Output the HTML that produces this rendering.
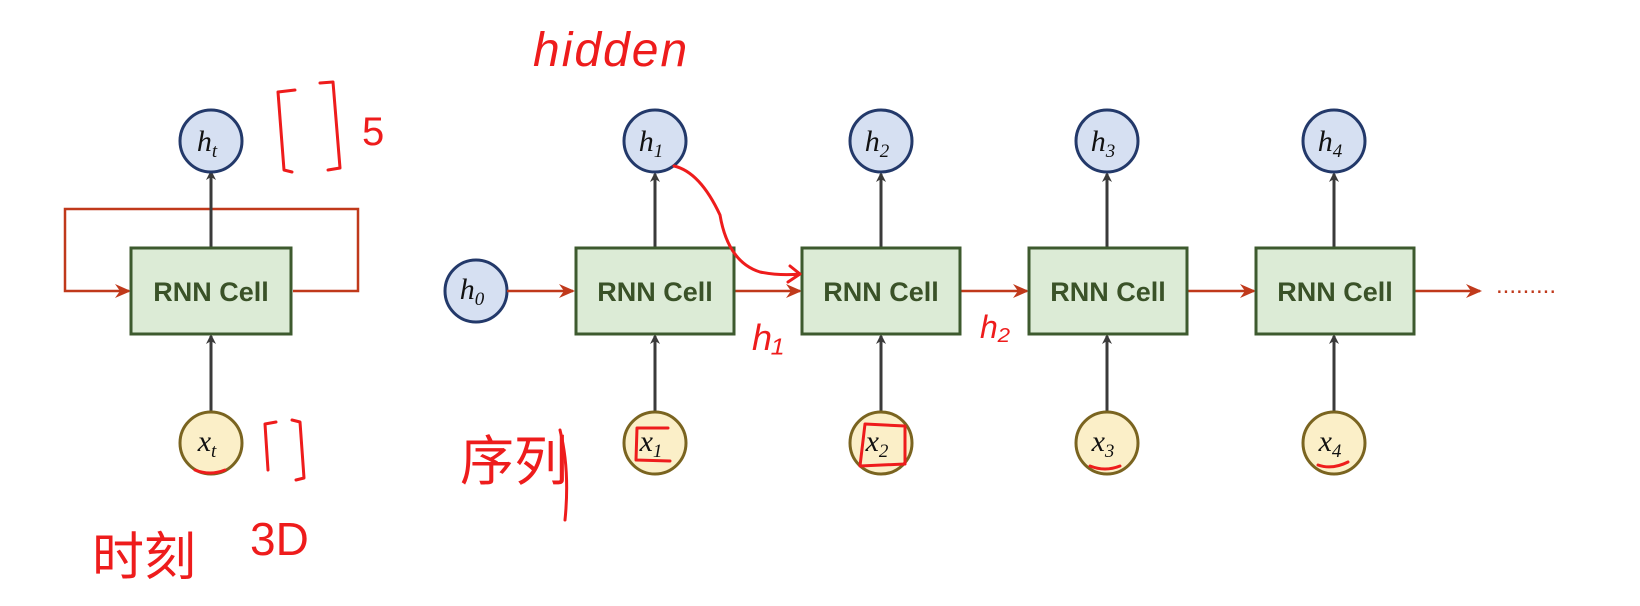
<!DOCTYPE html>
<html><head><meta charset="utf-8"><style>
html,body{margin:0;padding:0;background:#fff;}
svg{display:block;}
.box{fill:#dcebd6;stroke:#3d5a2e;stroke-width:3;}
.bt{font-family:"Liberation Sans",sans-serif;font-weight:bold;font-size:27px;fill:#3a5228;text-anchor:middle;}
.hc{fill:#d6e0f2;stroke:#23396a;stroke-width:3;}
.xc{fill:#fbefc8;stroke:#7a6420;stroke-width:3;}
.ml{font-family:"Liberation Serif",serif;font-style:italic;font-size:30px;fill:#111;text-anchor:middle;}
.sub{font-size:19px;}
.gl{stroke:#3a3a3a;stroke-width:3;fill:none;}
.rl{stroke:#c0391b;stroke-width:2.5;fill:none;}
.hw{stroke:#ee1c1c;stroke-width:3;fill:none;stroke-linecap:round;stroke-linejoin:round;}
.ht{font-family:"Liberation Sans","Noto Sans CJK SC",sans-serif;fill:#ee1c1c;}
</style></head><body>
<svg width="1640" height="606" viewBox="0 0 1640 606" xmlns="http://www.w3.org/2000/svg">
<defs>
<marker id="ag" markerWidth="10" markerHeight="10" refX="8" refY="5" orient="auto" markerUnits="userSpaceOnUse"><path d="M0,0 L10,5 L0,10 L3,5 Z" fill="#3a3a3a"/></marker>
<marker id="ar" markerWidth="16" markerHeight="14" refX="14" refY="7" orient="auto" markerUnits="userSpaceOnUse"><path d="M0,0 L16,7 L0,14 L5,7 Z" fill="#c0391b"/></marker>
</defs>

<!-- left folded RNN -->
<polyline class="rl" points="293,291 358,291 358,209 65,209 65,291 129,291" marker-end="url(#ar)"/>
<line class="gl" x1="211" y1="248" x2="211" y2="172" marker-end="url(#ag)"/>
<line class="gl" x1="211" y1="412" x2="211" y2="336" marker-end="url(#ag)"/>
<rect class="box" x="131" y="248" width="160" height="86"/>
<text class="bt" x="211" y="301">RNN Cell</text>
<circle class="hc" cx="211" cy="141" r="31"/>
<text class="ml" x="207" y="151">h<tspan class="sub" dy="6">t</tspan></text>
<circle class="xc" cx="211" cy="443" r="31"/>
<text class="ml" x="207" y="451">x<tspan class="sub" dy="6">t</tspan></text>

<!-- unrolled -->
<circle class="hc" cx="476" cy="291" r="31"/>
<text class="ml" x="472" y="299">h<tspan class="sub" dy="6">0</tspan></text>
<line class="rl" x1="507" y1="291" x2="573" y2="291" marker-end="url(#ar)"/>
<line class="rl" x1="734" y1="291" x2="800" y2="291" marker-end="url(#ar)"/>
<line class="rl" x1="961" y1="291" x2="1027" y2="291" marker-end="url(#ar)"/>
<line class="rl" x1="1187" y1="291" x2="1254" y2="291" marker-end="url(#ar)"/>
<line class="rl" x1="1414" y1="291" x2="1480" y2="291" marker-end="url(#ar)"/>
<text x="1496" y="293" style="font-family:'Liberation Sans',sans-serif;font-size:24px;fill:#c0391b;letter-spacing:0px">.........</text>

<g>
<line class="gl" x1="655" y1="248" x2="655" y2="174" marker-end="url(#ag)"/>
<line class="gl" x1="655" y1="412" x2="655" y2="336" marker-end="url(#ag)"/>
<rect class="box" x="576" y="248" width="158" height="86"/>
<text class="bt" x="655" y="301">RNN Cell</text>
<circle class="hc" cx="655" cy="141" r="31"/><text class="ml" x="651" y="151">h<tspan class="sub" dy="6">1</tspan></text>
<circle class="xc" cx="655" cy="443" r="31"/><text class="ml" x="651" y="451">x<tspan class="sub" dy="6">1</tspan></text>
</g>
<g>
<line class="gl" x1="881" y1="248" x2="881" y2="174" marker-end="url(#ag)"/>
<line class="gl" x1="881" y1="412" x2="881" y2="336" marker-end="url(#ag)"/>
<rect class="box" x="802" y="248" width="158" height="86"/>
<text class="bt" x="881" y="301">RNN Cell</text>
<circle class="hc" cx="881" cy="141" r="31"/><text class="ml" x="877" y="151">h<tspan class="sub" dy="6">2</tspan></text>
<circle class="xc" cx="881" cy="443" r="31"/><text class="ml" x="877" y="451">x<tspan class="sub" dy="6">2</tspan></text>
</g>
<g>
<line class="gl" x1="1107" y1="248" x2="1107" y2="174" marker-end="url(#ag)"/>
<line class="gl" x1="1107" y1="412" x2="1107" y2="336" marker-end="url(#ag)"/>
<rect class="box" x="1029" y="248" width="158" height="86"/>
<text class="bt" x="1108" y="301">RNN Cell</text>
<circle class="hc" cx="1107" cy="141" r="31"/><text class="ml" x="1103" y="151">h<tspan class="sub" dy="6">3</tspan></text>
<circle class="xc" cx="1107" cy="443" r="31"/><text class="ml" x="1103" y="451">x<tspan class="sub" dy="6">3</tspan></text>
</g>
<g>
<line class="gl" x1="1334" y1="248" x2="1334" y2="174" marker-end="url(#ag)"/>
<line class="gl" x1="1334" y1="412" x2="1334" y2="336" marker-end="url(#ag)"/>
<rect class="box" x="1256" y="248" width="158" height="86"/>
<text class="bt" x="1335" y="301">RNN Cell</text>
<circle class="hc" cx="1334" cy="141" r="31"/><text class="ml" x="1330" y="151">h<tspan class="sub" dy="6">4</tspan></text>
<circle class="xc" cx="1334" cy="443" r="31"/><text class="ml" x="1330" y="451">x<tspan class="sub" dy="6">4</tspan></text>
</g>

<!-- handwriting -->
<text class="ht" x="533" y="66" style="font-size:48px;font-style:italic;letter-spacing:2px">hidden</text>
<path class="hw" d="M295,90 L278,92 L284,170 L292,172 M320,83 L333,82 L340,168 L328,170"/>
<text class="ht" x="362" y="145" style="font-size:40px">5</text>
<path class="hw" d="M276,422 L265,424 L268,470 M292,420 L300,422 L304,478 L296,480"/>
<path class="hw" d="M195,470 Q210,476 225,470"/>
<text class="ht" x="92" y="575" style="font-size:52px">时刻</text>
<text class="ht" x="250" y="555" style="font-size:46px">3D</text>
<text class="ht" x="460" y="480" style="font-size:54px">序列</text>
<path class="hw" d="M560,430 Q570,470 565,520"/>
<path class="hw" d="M674,166 Q700,172 720,215 Q728,262 760,272 Q780,276 800,274 M790,266 L800,274 L788,282"/>
<text class="ht" x="752" y="350" style="font-size:36px;font-style:italic">h₁</text>
<text class="ht" x="980" y="338" style="font-size:32px;font-style:italic">h₂</text>
<path class="hw" d="M637,428 L636,460 L670,461 M637,428 L668,428 M865,424 L860,466 L905,464 L905,426 Z"/>
<path class="hw" d="M1090,466 Q1105,472 1120,466 M1318,465 Q1332,470 1348,462"/>
</svg>
</body></html>
